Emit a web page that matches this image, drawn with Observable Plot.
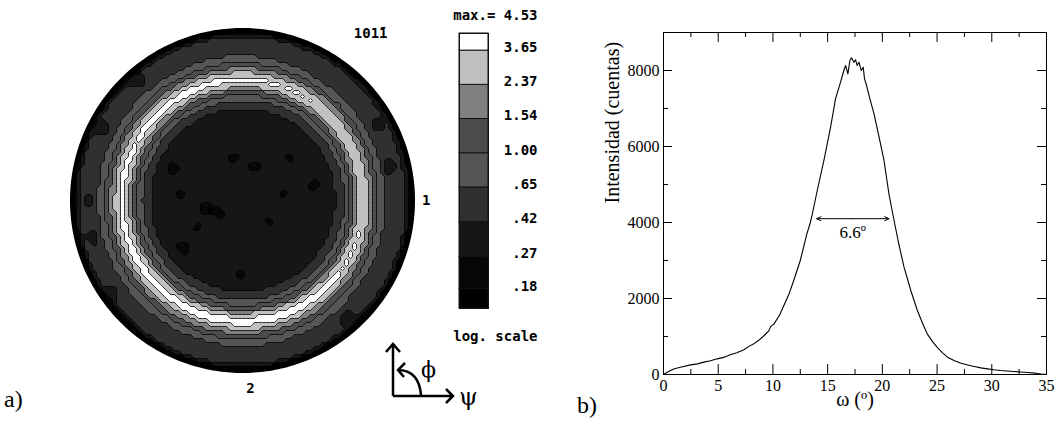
<!DOCTYPE html>
<html>
<head>
<meta charset="utf-8">
<script src="https://cdn.jsdelivr.net/npm/d3@7"></script>
<script src="https://cdn.jsdelivr.net/npm/@observablehq/plot@0.6"></script>
<style>
  html, body { margin: 0; padding: 0; background: #fff; }
  #fig { position: relative; width: 1056px; height: 423px; overflow: hidden; }
  #fig > * { position: absolute; }
  #fig svg { overflow: visible; background: transparent; }
  .tag { font-family: "Liberation Serif", "Times New Roman", serif; font-size: 24px; line-height: 1; color: #000; }
</style>
</head>
<body>
<div id="fig"></div>
<script>
// ---------- (a) {10-11} pole figure ----------
// radial profile: pole density (multiples of random) against tilt angle psi (deg)
const psiDeg   = [0, 10, 20, 30, 40, 45, 47.5, 50, 52.5, 55, 57.5, 59, 60.5, 62, 64, 66, 68, 70, 72, 74, 76, 78, 82, 86, 88, 90];
const psiLevel = [.33, .34, .34, .34, .35, .36, .39, .47, .60, .85, 1.3, 1.9, 2.6, 3.4, 4.4, 3.3, 2.3, 1.6, 1.1, .85, .68, .58, .52, .47, .30, .10];
// azimuthal modulation of the ring against phi (deg, counter-clockwise from direction 1)
const phiDeg    = [0, 30, 60, 90, 120, 150, 180, 210, 240, 270, 300, 330, 360];
const phiFactor = [.79, .80, .87, 1.03, 1.02, .99, 1.01, 1.03, 1.06, 1.1, 1.08, .92, .79];
// background density the ring modulation is applied above
const baseLevel = 0.35;
// low-density patches: [x, y] in units of the figure radius, patch radius, density factor
const patchXY     = [[-.41, .18], [-.36, .04], [-.21, -.05], [-.13, -.08], [-.35, -.28], [.07, .20], [-.05, .25],
                     [.24, .04], [.42, .09], [.16, -.12], [-.01, -.43], [-.26, -.16], [.28, .25], [-.17, -.06],
                     [-.62, .71], [-.84, .43], [-.89, 0], [-.78, -.55], [-.88, -.22], [.62, -.70], [.85, .20], [.80, .45]];
const patchRadius = [.035, .03, .04, .035, .035, .03, .03, .025, .03, .025, .03, .025, .025, .03,
                     .05, .05, .04, .05, .04, .05, .05, .04];
const patchFactor = [.7, .7, .7, .7, .7, .7, .7, .7, .7, .7, .7, .7, .7, .7,
                     .75, .75, .75, .75, .75, .75, .75, .75];

// contour levels (log scale) and their grey shades, from lowest band to highest
const levels      = [0.18, 0.27, 0.42, 0.65, 1.00, 1.54, 2.37, 3.65];
const levelLabels = [".18", ".27", ".42", ".65", "1.00", "1.54", "2.37", "3.65"];
const bandColors  = ["#000000", "#070707", "#161616", "#303030", "#555555", "#4c4c4c", "#808080", "#c0c0c0", "#ffffff"];
const maxLevel = 4.53;
const minLevel = 0.141;

// ---------- (b) rocking curve ----------
const omega  = [0, 0.3, 0.64, 1.0, 1.55, 2.47, 3.1, 3.7, 4.3, 4.9, 5.5, 6.1, 6.7, 7.35, 7.8, 8.26, 8.7, 9.2, 9.6, 9.8, 10.1,
                10.6, 11.0, 11.5, 11.9, 12.5, 13.1, 13.4, 13.6, 14.05, 14.66, 15.27, 15.72, 16.18, 16.48, 16.64,
                16.85, 17.03, 17.18, 17.4, 17.55, 17.7, 17.86, 18.07, 18.25, 18.37, 18.56, 18.86, 19.24, 19.7,
                20.15, 20.6, 21.07, 21.5, 21.98, 22.6, 23.2, 23.7, 24.1, 24.6, 25.0, 25.5, 25.95, 26.6, 27.2, 27.8,
                28.4, 29.0, 29.6, 30.2, 30.8, 31.4, 32.0, 32.6, 33.3, 34.0, 34.5, 35];
const counts = [0, 50, 105, 150, 193, 254, 280, 325, 360, 412, 450, 518, 570, 650, 740, 807, 900, 1026, 1140, 1260, 1333,
                1560, 1816, 2140, 2474, 3000, 3700, 3980, 4228, 4842, 5632, 6509, 7255, 7693, 8000, 8131,
                7912, 8263, 8333, 8219, 8281, 8131, 8219, 8000, 8088, 7781, 7605, 7255, 6860, 6246,
                5632, 4754, 4053, 3439, 2825, 2211, 1684, 1330, 1070, 860, 719, 570, 456, 360, 298, 250,
                211, 175, 149, 125, 105, 92, 79, 66, 53, 35, 9, 0];
const omegaTicks = [0, 5, 10, 15, 20, 25, 30, 35];
const omegaMinor = [2.5, 7.5, 12.5, 17.5, 22.5, 27.5, 32.5];
const countTicks = [0, 2000, 4000, 6000, 8000];
const countMinor = [1000, 3000, 5000, 7000];
const fwhmStart = 14.0, fwhmWidth = 6.6, fwhmLevel = 4100;

const mono = "'DejaVu Sans Mono', 'Liberation Mono', monospace";
const serif = "'Liberation Serif', 'Times New Roman', serif";
const fig = document.getElementById("fig");

function place(el, left, top) {
  el.style.left = left + "px";
  el.style.top = top + "px";
  fig.appendChild(el);
}

// linear lookup in a read-off profile
function lookup(xs, ys, v) {
  const i = Math.max(1, Math.min(xs.length - 1, d3.bisectRight(xs, v)));
  const t = (v - xs[i - 1]) / (xs[i] - xs[i - 1]);
  return ys[i - 1] + t * (ys[i] - ys[i - 1]);
}

// pole density at a point of the projected disc
function density(x, y) {
  const r = Math.hypot(x, y);
  if (r > 1) return -1;
  const phi = (Math.atan2(y, x) * 180 / Math.PI + 360) % 360;
  const radial = lookup(psiDeg, psiLevel, r * 90);
  let v = baseLevel + (radial - baseLevel) * lookup(phiDeg, phiFactor, phi);
  patchXY.forEach(([px, py], i) => {
    if (Math.hypot(x - px, y - py) < patchRadius[i]) v *= patchFactor[i];
  });
  return v;
}

const bandScale = {type: "threshold", domain: levels, range: bandColors};
const rimAngles = d3.range(0, 361, 1);

const pole = Plot.plot({
  width: 440, height: 423,
  marginLeft: 72, marginRight: 28, marginTop: 30, marginBottom: 53,
  x: {domain: [-1, 1], axis: null},
  y: {domain: [-1, 1], axis: null},
  color: bandScale,
  marks: [
    Plot.contour({
      fill: density, x1: -1, x2: 1, y1: -1, y2: 1,
      thresholds: [0, ...levels], pixelSize: 4, smooth: false,
      stroke: "#000", strokeWidth: 0.8
    }),
    Plot.line(rimAngles, {
      x: a => Math.cos(a * Math.PI / 180), y: a => Math.sin(a * Math.PI / 180),
      stroke: "#000", strokeWidth: 5
    }),
    Plot.text(["1"], {frameAnchor: "right", dx: 18, fontFamily: mono, fontWeight: "bold", fontSize: 14}),
    Plot.text(["2"], {frameAnchor: "bottom", dx: 8, dy: 22, fontFamily: mono, fontWeight: "bold", fontSize: 14}),
    Plot.text(["101\u03041"], {frameAnchor: "top-right", dx: -25, dy: -2, fontFamily: mono, fontWeight: "bold", fontSize: 14})
  ]
});
place(pole, 0, 0);

// grey-level key
const bounds = [minLevel, ...levels, maxLevel];
const bands = bounds.slice(0, -1).map((lo, i) => ({lo, hi: bounds[i + 1]}));
const key = Plot.plot({
  width: 120, height: 423,
  marginLeft: 19, marginRight: 72, marginTop: 33, marginBottom: 115,
  x: {axis: null},
  y: {type: "log", domain: [minLevel, maxLevel], axis: null},
  color: bandScale,
  marks: [
    Plot.rect(bands, {y1: "lo", y2: "hi", fill: "lo", stroke: "#111", strokeWidth: 1}),
    Plot.frame({stroke: "#111"}),
    Plot.text(levels, {y: d => d, text: (d, i) => levelLabels[i], frameAnchor: "right", textAnchor: "end",
      dx: 49, dy: -3, fontFamily: mono, fontWeight: "bold", fontSize: 14}),
    Plot.text([maxLevel], {y: d => d, text: d => `max.= ${d.toFixed(2)}`, frameAnchor: "right", textAnchor: "end",
      dx: 49, dy: -18, fontFamily: mono, fontWeight: "bold", fontSize: 14}),
    Plot.text(["log. scale"], {frameAnchor: "bottom-right", textAnchor: "end", dx: 49, dy: 32,
      fontFamily: mono, fontWeight: "bold", fontSize: 14})
  ]
});
place(key, 440, 0);

// rocking curve panel
const W = 496, H = 423, mL = 103, mR = 10, mT = 32, mB = 49;
const fw = W - mL - mR, fh = H - mT - mB;
const curve = omega.map((w, i) => ({w, c: counts[i]}));
const fwhmMid = fwhmStart + fwhmWidth / 2;
const rock = Plot.plot({
  width: W, height: H, marginLeft: mL, marginRight: mR, marginTop: mT, marginBottom: mB,
  x: {domain: [0, 35]},
  y: {domain: [0, 9000]},
  style: {fontFamily: serif},
  marks: [
    Plot.frame({stroke: "#000"}),
    // inward ticks on all four sides
    Plot.ruleX(omegaTicks, {insetTop: fh - 10, stroke: "#000"}),
    Plot.ruleX(omegaTicks, {insetBottom: fh - 10, stroke: "#000"}),
    Plot.ruleX(omegaMinor, {insetTop: fh - 5, stroke: "#000"}),
    Plot.ruleX(omegaMinor, {insetBottom: fh - 5, stroke: "#000"}),
    Plot.ruleY(countTicks, {insetRight: fw - 9, stroke: "#000"}),
    Plot.ruleY(countTicks, {insetLeft: fw - 9, stroke: "#000"}),
    Plot.ruleY(countMinor, {insetRight: fw - 5, stroke: "#000"}),
    Plot.ruleY(countMinor, {insetLeft: fw - 5, stroke: "#000"}),
    Plot.axisX(omegaTicks, {tickSize: 0, tickPadding: 5, fontSize: 16, fontFamily: serif, tickFormat: d3.format("d"), label: null}),
    Plot.axisY(countTicks, {tickSize: 0, tickPadding: 4, fontSize: 16, fontFamily: serif, tickFormat: d3.format("d"), label: null}),
    Plot.text(["\u03c9 (\u00ba)"], {frameAnchor: "bottom", dy: 31, fontSize: 20, fontFamily: serif}),
    Plot.text(["Intensidad (cuentas)"], {frameAnchor: "left", dx: -51, rotate: -90, fontSize: 20, fontFamily: serif}),
    Plot.line(curve, {x: "w", y: "c", stroke: "#000", strokeWidth: 1.1}),
    Plot.arrow([0], {x1: fwhmMid, x2: fwhmStart, y1: fwhmLevel, y2: fwhmLevel, headLength: 7, headAngle: 50, strokeWidth: 1, stroke: "#000"}),
    Plot.arrow([0], {x1: fwhmMid, x2: fwhmStart + fwhmWidth, y1: fwhmLevel, y2: fwhmLevel, headLength: 7, headAngle: 50, strokeWidth: 1, stroke: "#000"}),
    Plot.text([fwhmWidth], {x: fwhmMid, y: fwhmLevel, text: d => `${d.toFixed(1)}\u00ba`, dy: 14, fontSize: 17, fontFamily: serif})
  ]
});
place(rock, 560, 0);

// panel tags
const tagA = document.createElement("div");
tagA.className = "tag"; tagA.textContent = "a)";
place(tagA, 4, 387);
const tagB = document.createElement("div");
tagB.className = "tag"; tagB.textContent = "b)";
place(tagB, 577, 393);

// psi / phi reference frame of the pole figure
const ns = "http://www.w3.org/2000/svg";
const glyph = document.createElementNS(ns, "svg");
glyph.setAttribute("width", 110); glyph.setAttribute("height", 80);
glyph.innerHTML = `
  <g transform="translate(-380,-335)" fill="none" stroke="#000" stroke-width="2.5">
    <path d="M393,396 V344 M386,352 L393,344 L400,352"/>
    <path d="M393,396 H453 M446,389 L453,396 L446,403"/>
    <path d="M421,395 Q419,371 399,370 M405,363 L398,370 L404,377"/>
    <text x="421" y="377" stroke="none" fill="#000" font-family="DejaVu Serif, serif" font-size="22">\u03d5</text>
    <text x="459" y="405" stroke="none" fill="#000" font-family="DejaVu Serif, serif" font-size="24">\u03c8</text>
  </g>`;
place(glyph, 380, 335);
</script>
</body>
</html>
